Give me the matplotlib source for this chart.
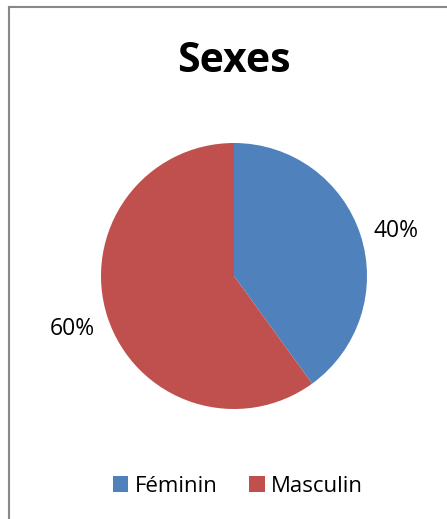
import matplotlib.pyplot as plt
from matplotlib.lines import Line2D
from matplotlib.patches import Patch

# data
categories = ['Féminin', 'Masculin']
shares = [40, 60]
colors = ['#4F81BD', '#C0504D']

W, H = 447, 519
fig = plt.figure(figsize=(W / 100, H / 100), dpi=100)
fig.patch.set_facecolor('white')

# chart frame (only top and left edges visible in the crop)
fig.add_artist(Line2D([9 / W, 9 / W], [0, 1 - 7 / H], color='#888888', lw=1.5))
fig.add_artist(Line2D([9 / W, 1], [1 - 7 / H, 1 - 7 / H], color='#888888', lw=1.5))

# pie area
cx, cy, r = 234, 276, 133
ax = fig.add_axes([(cx - r) / W, 1 - (cy + r) / H, 2 * r / W, 2 * r / H])
wedges, texts, autotexts = ax.pie(
    shares, colors=colors, startangle=90, counterclock=False,
    autopct='%d%%', pctdistance=1.28, radius=1,
    textprops=dict(family='Open Sans', fontsize=16.5, color='black'),
)
# Excel's best-fit placement puts the first label a bit lower
x0, y0 = autotexts[0].get_position()
autotexts[0].set_position((x0, y0 - 0.06))
ax.set_xlim(-1, 1)
ax.set_ylim(-1, 1)
ax.set_aspect('equal')
ax.axis('off')

fig.text(234 / W, 1 - 61 / H, 'Sexes', ha='center', va='center',
         family='Open Sans', fontweight='bold', fontsize=29.5)

handles = [Patch(facecolor=c, edgecolor='none') for c in colors]
fig.legend(handles, categories, loc='center', bbox_to_anchor=(238 / W, 1 - 486 / H),
           ncol=2, frameon=False, prop=dict(family='Open Sans', size=16),
           handlelength=0.7, handleheight=0.7, handletextpad=0.3, columnspacing=1.4)

fig.savefig('out.png', dpi=100)
